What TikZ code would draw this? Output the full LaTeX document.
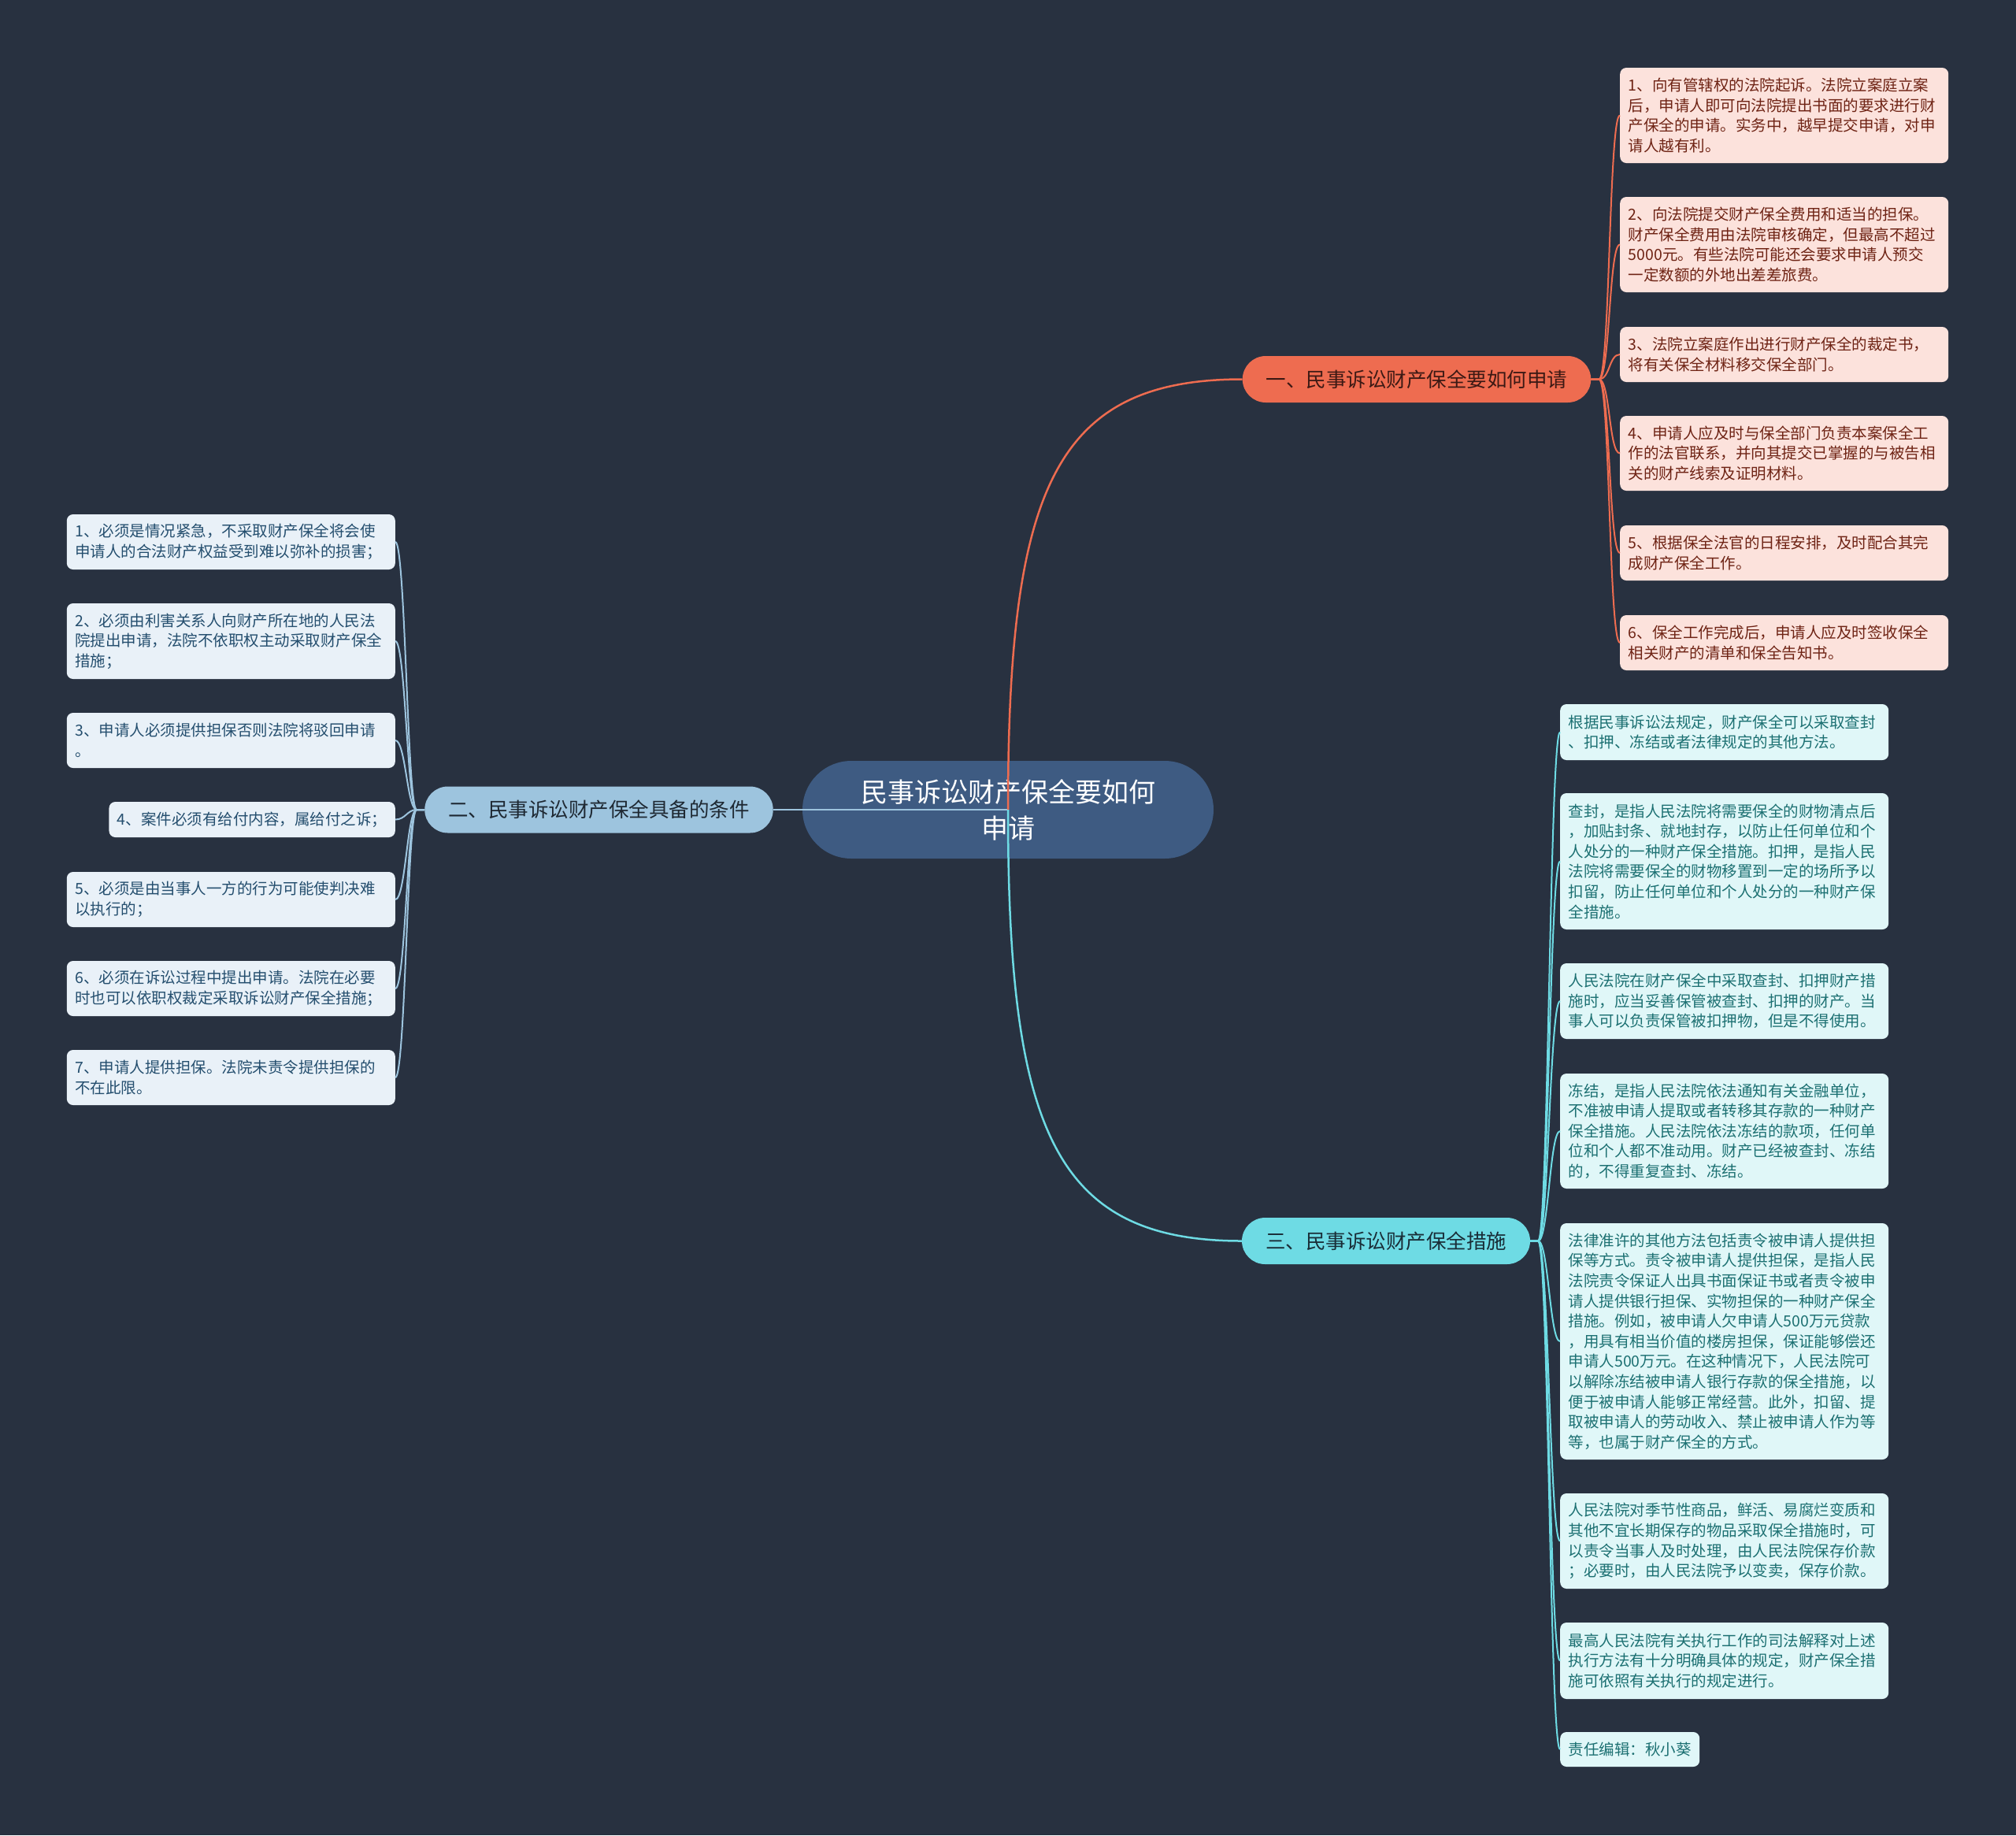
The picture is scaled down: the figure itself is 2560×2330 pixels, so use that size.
\documentclass[tikz,border=0pt]{standalone}
\usepackage{fontspec}
\newfontfamily\cjkfont{Noto Sans CJK SC}
\usetikzlibrary{calc}

\definecolor{bgcol}{RGB}{40,49,64}
\definecolor{rootcol}{RGB}{62,91,130}
\definecolor{orangecol}{RGB}{238,108,80}
\definecolor{orangeleaf}{RGB}{252,226,220}
\definecolor{orangetext}{RGB}{110,35,20}
\definecolor{orangedark}{RGB}{60,25,20}
\definecolor{bluecol}{RGB}{157,196,222}
\definecolor{blueleaf}{RGB}{233,241,248}
\definecolor{bluetext}{RGB}{36,78,110}
\definecolor{bluedark}{RGB}{30,40,50}
\definecolor{cyancol}{RGB}{110,219,228}
\definecolor{cyanleaf}{RGB}{224,247,248}
\definecolor{cyantext}{RGB}{28,112,114}
\definecolor{cyandark}{RGB}{25,45,55}

\begin{document}
\begin{tikzpicture}[
  x=1pt, y=-1pt,
  font=\cjkfont,
  root/.style={
    fill=rootcol,
    text=white,
    rounded corners=62pt,
    minimum width=522pt,
    minimum height=124pt,
    align=center,
    font=\cjkfont\fontsize{34}{46}\selectfont
  },
  topic/.style={
    rounded corners=29.5pt,
    minimum height=59pt,
    inner xsep=30pt,
    inner ysep=0pt,
    font=\cjkfont\fontsize{25.5}{30}\selectfont
  },
  leaf/.style={
    rounded corners=8pt,
    inner xsep=10.5pt,
    inner ysep=0pt,
    align=left,
    font=\cjkfont\fontsize{19.5}{25.6}\selectfont
  },
  para/.style={text width=396pt},
  oleafbox/.style={leaf, fill=orangeleaf, text=orangetext},
  bleafbox/.style={leaf, fill=blueleaf, text=bluetext},
  cleafbox/.style={leaf, fill=cyanleaf, text=cyantext},
  oline/.style={draw=orangecol, line width=2pt},
  bline/.style={draw=bluecol, line width=2pt},
  cline/.style={draw=cyancol, line width=2pt}
]

\useasboundingbox (0,0) rectangle (2560,2330);
\fill[bgcol] (0,0) rectangle (2560,2330);

% centre and main branches
\node[root] (root) at (1280,1028) {民事诉讼财产保全要如何\\申请};

\node[topic, fill=orangecol, text=orangedark] (b1) at (1799,481.5) {一、民事诉讼财产保全要如何申请};
\node[topic, fill=bluecol, text=bluedark] (b2) at (760.5,1028) {二、民事诉讼财产保全具备的条件};
\node[topic, fill=cyancol, text=cyandark] (b3) at (1760,1575.5) {三、民事诉讼财产保全措施};

% branch one
\node[oleafbox, para, anchor=west, minimum height=121pt] (o1) at (2057,146.5)
  {1、向有管辖权的法院起诉。法院立案庭立案\\后，申请人即可向法院提出书面的要求进行财\\产保全的申请。实务中，越早提交申请，对申\\请人越有利。};
\node[oleafbox, para, anchor=west, minimum height=121pt] (o2) at (2057,310.5)
  {2、向法院提交财产保全费用和适当的担保。\\财产保全费用由法院审核确定，但最高不超过\\5000元。有些法院可能还会要求申请人预交\\一定数额的外地出差差旅费。};
\node[oleafbox, para, anchor=west, minimum height=70pt] (o3) at (2057,450)
  {3、法院立案庭作出进行财产保全的裁定书，\\将有关保全材料移交保全部门。};
\node[oleafbox, para, anchor=west, minimum height=95pt] (o4) at (2057,575.5)
  {4、申请人应及时与保全部门负责本案保全工\\作的法官联系，并向其提交已掌握的与被告相\\关的财产线索及证明材料。};
\node[oleafbox, para, anchor=west, minimum height=70pt] (o5) at (2057,702)
  {5、根据保全法官的日程安排，及时配合其完\\成财产保全工作。};
\node[oleafbox, para, anchor=west, minimum height=70pt] (o6) at (2057,816)
  {6、保全工作完成后，申请人应及时签收保全\\相关财产的清单和保全告知书。};

% branch two
\node[bleafbox, para, anchor=east, minimum height=70pt] (l1) at (502,688)
  {1、必须是情况紧急，不采取财产保全将会使\\申请人的合法财产权益受到难以弥补的损害；};
\node[bleafbox, para, anchor=east, minimum height=96pt] (l2) at (502,814)
  {2、必须由利害关系人向财产所在地的人民法\\院提出申请，法院不依职权主动采取财产保全\\措施；};
\node[bleafbox, para, anchor=east, minimum height=70pt] (l3) at (502,940)
  {3、申请人必须提供担保否则法院将驳回申请\\。};
\node[bleafbox, anchor=east, minimum height=45pt] (l4) at (502,1040.5)
  {4、案件必须有给付内容，属给付之诉；};
\node[bleafbox, para, anchor=east, minimum height=70pt] (l5) at (502,1142)
  {5、必须是由当事人一方的行为可能使判决难\\以执行的；};
\node[bleafbox, para, anchor=east, minimum height=70pt] (l6) at (502,1255)
  {6、必须在诉讼过程中提出申请。法院在必要\\时也可以依职权裁定采取诉讼财产保全措施；};
\node[bleafbox, para, anchor=east, minimum height=70pt] (l7) at (502,1368)
  {7、申请人提供担保。法院未责令提供担保的\\不在此限。};

% branch three
\node[cleafbox, para, anchor=west, minimum height=71pt] (c1) at (1981,929.5)
  {根据民事诉讼法规定，财产保全可以采取查封\\、扣押、冻结或者法律规定的其他方法。};
\node[cleafbox, para, anchor=west, minimum height=173pt] (c2) at (1981,1093.5)
  {查封，是指人民法院将需要保全的财物清点后\\，加贴封条、就地封存，以防止任何单位和个\\人处分的一种财产保全措施。扣押，是指人民\\法院将需要保全的财物移置到一定的场所予以\\扣留，防止任何单位和个人处分的一种财产保\\全措施。};
\node[cleafbox, para, anchor=west, minimum height=96pt] (c3) at (1981,1271)
  {人民法院在财产保全中采取查封、扣押财产措\\施时，应当妥善保管被查封、扣押的财产。当\\事人可以负责保管被扣押物，但是不得使用。};
\node[cleafbox, para, anchor=west, minimum height=146pt] (c4) at (1981,1436)
  {冻结，是指人民法院依法通知有关金融单位，\\不准被申请人提取或者转移其存款的一种财产\\保全措施。人民法院依法冻结的款项，任何单\\位和个人都不准动用。财产已经被查封、冻结\\的，不得重复查封、冻结。};
\node[cleafbox, para, anchor=west, minimum height=300pt] (c5) at (1981,1703)
  {法律准许的其他方法包括责令被申请人提供担\\保等方式。责令被申请人提供担保，是指人民\\法院责令保证人出具书面保证书或者责令被申\\请人提供银行担保、实物担保的一种财产保全\\措施。例如，被申请人欠申请人500万元贷款\\，用具有相当价值的楼房担保，保证能够偿还\\申请人500万元。在这种情况下，人民法院可\\以解除冻结被申请人银行存款的保全措施，以\\便于被申请人能够正常经营。此外，扣留、提\\取被申请人的劳动收入、禁止被申请人作为等\\等，也属于财产保全的方式。};
\node[cleafbox, para, anchor=west, minimum height=121pt] (c6) at (1981,1956.5)
  {人民法院对季节性商品，鲜活、易腐烂变质和\\其他不宜长期保存的物品采取保全措施时，可\\以责令当事人及时处理，由人民法院保存价款\\；必要时，由人民法院予以变卖，保存价款。};
\node[cleafbox, para, anchor=west, minimum height=97pt] (c7) at (1981,2108.5)
  {最高人民法院有关执行工作的司法解释对上述\\执行方法有十分明确具体的规定，财产保全措\\施可依照有关执行的规定进行。};
\node[cleafbox, anchor=west, minimum height=44pt] (c8) at (1981,2221)
  {责任编辑：秋小葵};

% connectors
\draw[bline, line width=2.5pt] (root.center) -- (b2.east);
\draw[oline, line width=2.5pt] (root.center) .. controls +(0,-408) and +(-238,0) .. (b1.west);
\draw[cline, line width=2.5pt] (root.center) .. controls +(0,408) and +(-237,0) .. (b3.west);

\foreach \n in {o1,o2,o3,o4,o5,o6}
  \draw[oline] (b1.east) -- ++(10,0) .. controls +(14,0) and +(-14,0) .. (\n.west);
\foreach \n in {l1,l2,l3,l4,l5,l6,l7}
  \draw[bline] (b2.west) -- ++(-10,0) .. controls +(-12,0) and +(13,0) .. (\n.east);
\foreach \n in {c1,c2,c3,c4,c5,c6,c7,c8}
  \draw[cline] (b3.east) -- ++(10,0) .. controls +(13,0) and +(-13,0) .. (\n.west);

\end{tikzpicture}
\end{document}
